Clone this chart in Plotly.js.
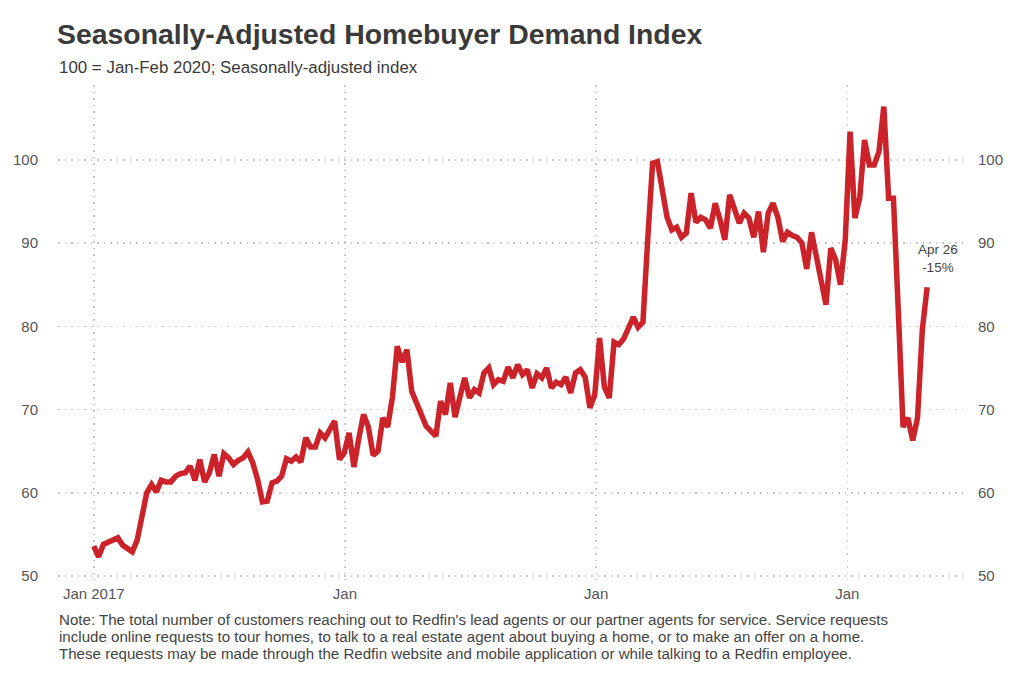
<!DOCTYPE html>
<html>
<head>
<meta charset="utf-8">
<script src="https://cdn.plot.ly/plotly-3.0.1.min.js"></script>
<style>
html,body{margin:0;padding:0;background:#fff;}
#chart{width:1024px;height:683px;}
</style>
</head>
<body>
<div id="chart"></div>
<script>
// Weekly series: weeks ending Sunday, starting 2017-01-01, ending 2020-04-26
const startDate = '2017-01-01';
const demandIndex = [
 53.6,52.3,53.8,54.1,54.3,54.6,53.7,53.3,52.9,54.3,
 57.0,60.0,61.0,60.1,61.5,61.3,61.3,62.0,62.3,62.4,
 63.2,61.5,64.0,61.3,62.4,64.6,62.0,64.7,64.2,63.4,
 63.9,64.2,64.9,63.6,61.6,58.9,59.0,61.2,61.4,62.0,
 64.1,63.8,64.3,63.7,66.6,65.5,65.5,67.2,66.6,67.5,
 68.6,64.0,64.8,67.2,63.1,66.5,69.4,67.9,64.5,65.0,
 69.0,67.9,71.5,77.6,75.7,77.2,72.2,70.8,69.3,68.0,
 67.4,66.8,71.0,69.4,73.2,69.1,71.5,73.8,71.4,72.4,
 72.0,74.4,75.0,73.0,73.6,73.4,75.1,73.8,75.4,74.2,
 74.8,72.6,74.3,73.8,75.0,72.6,73.3,73.0,73.9,72.0,
 74.4,74.8,73.9,70.2,71.8,78.6,72.7,71.4,78.1,77.8,
 78.5,80.0,81.1,79.9,80.5,90.5,99.6,99.8,96.5,93.1,
 91.6,91.9,90.7,91.2,96.0,92.5,93.1,92.8,91.8,94.8,
 92.8,90.4,95.8,94.0,92.4,93.6,93.0,90.7,93.8,88.9,
 93.6,94.8,93.1,90.2,91.3,90.9,90.7,90.0,86.9,91.3,
 88.3,85.0,82.6,89.4,88.0,85.0,90.4,103.4,93.0,95.4,
 102.4,99.4,99.4,101.0,106.4,95.4,95.4,82.0,67.9,69.0,
 66.3,69.0,79.6,84.7
];
const xTickVals = ['2017-01-01','2018-01-01','2019-01-01','2020-01-01'];
const xTickText = ['Jan 2017','Jan','Jan','Jan'];
const yTickVals = [50,60,70,80,90,100];
const lastLabel = 'Apr 26<br>-15%';

const titleText = 'Seasonally-Adjusted Homebuyer Demand Index';
const subtitleText = '100 = Jan-Feb 2020; Seasonally-adjusted index';
const noteLines = [
  "Note: The total number of customers reaching out to Redfin's lead agents or our partner agents for service. Service requests",
  "include online requests to tour homes, to talk to a real estate agent about buying a home, or to make an offer on a home.",
  "These requests may be made through the Redfin website and mobile application or while talking to a Redfin employee."
];

// build weekly dates
const dates = [];
const s = new Date(startDate + 'T00:00:00Z');
for (let i = 0; i < demandIndex.length; i++) {
  const d = new Date(s.getTime() + i * 7 * 86400000);
  dates.push(d.toISOString().slice(0,10));
}

const FONT = 'Liberation Sans, Arial, Helvetica, sans-serif';
const grid = {showgrid:true, gridcolor:'#c8c8c8', gridwidth:1.5, griddash:'1.5px,5px', zeroline:false, showline:false};

const traces = [
  {x: dates, y: demandIndex, type:'scatter', mode:'lines',
   line:{color:'#cc2229', width:5.5}, hoverinfo:'x+y', showlegend:false},
  {x: dates, y: demandIndex, type:'scatter', mode:'lines', yaxis:'y2',
   line:{color:'rgba(0,0,0,0)', width:0}, hoverinfo:'skip', showlegend:false}
];

const yRange = [49.52, 109.0];
const PH = 495;
const noteY = [619, 636, 653];
const annotations = [
  {text:subtitleText, xref:'paper', yref:'paper', x:-0.001, y:(580-67)/PH,
   xanchor:'left', yanchor:'middle', showarrow:false,
   font:{family:FONT, size:16.9, color:'#3a3a3a'}},
  {text:lastLabel, xref:'x', yref:'y', x:dates[dates.length-1], y:demandIndex[demandIndex.length-1],
   xanchor:'center', yanchor:'bottom', xshift:11, yshift:10, showarrow:false,
   font:{family:FONT, size:13.5, color:'#444'}}
];
noteLines.forEach((t, i) => annotations.push({
  text:t, xref:'paper', yref:'paper', x:-0.001, y:(580-noteY[i])/PH,
  xanchor:'left', yanchor:'middle', align:'left', showarrow:false,
  font:{family:FONT, size:15.1, color:'#444'}
}));

const layout = {
  width:1024, height:683,
  paper_bgcolor:'#fff', plot_bgcolor:'#fff',
  margin:{l:58, r:59, t:85, b:103},
  font:{family:FONT, color:'#555'},
  title:{text:'<b>'+titleText+'</b>', x:57/1024, xanchor:'left', xref:'container',
         y:1-34/683, yanchor:'middle', yref:'container',
         font:{family:FONT, size:28.4, color:'#3a3a3a'}},
  xaxis: Object.assign({}, grid, {
    type:'date', range:['2016-11-10','2020-06-20'],
    tickmode:'array', tickvals:xTickVals, ticktext:xTickText,
    ticks:'outside', ticklen:0, tickcolor:'rgba(0,0,0,0)',
    tickfont:{family:FONT, size:15, color:'#555'}
  }),
  yaxis: Object.assign({}, grid, {
    range:yRange, tickmode:'array', tickvals:yTickVals,
    ticks:'outside', ticklen:16, tickcolor:'rgba(0,0,0,0)',
    tickfont:{family:FONT, size:15, color:'#555'}
  }),
  yaxis2: {
    range:yRange, overlaying:'y', side:'right', tickmode:'array', tickvals:yTickVals,
    showgrid:false, zeroline:false, showline:false,
    ticks:'outside', ticklen:9, tickcolor:'rgba(0,0,0,0)',
    tickfont:{family:FONT, size:15, color:'#555'}
  },
  annotations: annotations
};

Plotly.newPlot('chart', traces, layout, {displayModeBar:false, staticPlot:true});
</script>
</body>
</html>
